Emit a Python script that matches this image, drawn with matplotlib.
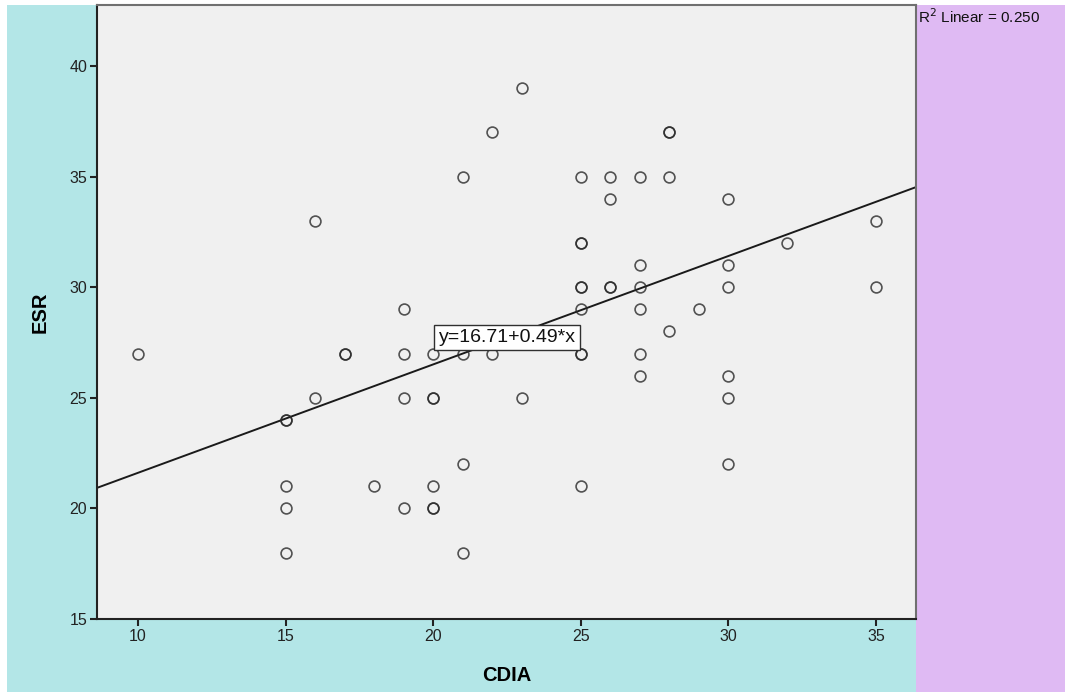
import matplotlib
matplotlib.use("Agg")
import matplotlib.pyplot as plt
from matplotlib.patches import Rectangle

plt.rcParams["font.family"] = ["Liberation Sans", "DejaVu Sans"]

# CDIA / ESR pairs (repeated pairs are genuine duplicates)
cdia = [10,
        15, 15, 15, 15, 15,
        16, 16,
        17, 17,
        18,
        19, 19, 19, 19,
        20, 20, 20, 20, 20, 20,
        21, 21, 21, 21,
        22, 22,
        23, 23,
        25, 25, 25, 25, 25, 25, 25, 25, 25,
        26, 26, 26, 26,
        27, 27, 27, 27, 27, 27,
        28, 28, 28, 28,
        29,
        30, 30, 30, 30, 30, 30,
        32,
        35, 35]
esr = [27,
       24, 24, 21, 20, 18,
       33, 25,
       27, 27,
       21,
       29, 27, 25, 20,
       27, 25, 25, 21, 20, 20,
       35, 27, 22, 18,
       37, 27,
       39, 25,
       35, 32, 32, 30, 30, 29, 27, 27, 21,
       35, 34, 30, 30,
       35, 31, 30, 29, 27, 26,
       37, 37, 35, 28,
       29,
       34, 31, 30, 26, 25, 22,
       32,
       33, 30]

intercept = 16.71
slope = 0.49
r_squared = 0.250

xlim = (8.61, 36.36)
ylim = (15.0, 42.76)
xticks = [10, 15, 20, 25, 30, 35]
yticks = [15, 20, 25, 30, 35, 40]

fig = plt.figure(figsize=(10.65, 6.92), dpi=100)
fig.patch.set_facecolor("white")

ax_left, ax_right = 97 / 1065, 916 / 1065
ax_bottom, ax_top = 73 / 692, 687 / 692

# coloured panels behind the chart and beside it
fig.patches.append(Rectangle((7 / 1065, 0), ax_right - 7 / 1065, ax_top,
                             transform=fig.transFigure, facecolor="#b3e6e7",
                             edgecolor="none", zorder=-2))
fig.patches.append(Rectangle((ax_right, 0), 1 - ax_right, ax_top,
                             transform=fig.transFigure, facecolor="#dfbaf3",
                             edgecolor="none", zorder=-2))

ax = fig.add_axes([ax_left, ax_bottom, ax_right - ax_left, ax_top - ax_bottom])
ax.set_zorder(1)
ax.set_facecolor("#f0f0f0")

ax.plot(cdia, esr, linestyle="none", marker="o", markersize=7.8,
        markerfacecolor="none", markeredgecolor="#2a2a2a",
        markeredgewidth=1.2, alpha=0.8, zorder=3)

fit_x = list(xlim)
fit_y = [intercept + slope * v for v in fit_x]
ax.plot(fit_x, fit_y, color="#1a1a1a", linewidth=1.4, zorder=2)

ax.text(22.51, 27.72, f"y={intercept:.2f}+{slope:.2f}*x", fontsize=14,
        ha="center", va="center", zorder=4, color="#111111",
        bbox=dict(boxstyle="square,pad=0.22", facecolor="white",
                  edgecolor="#303030", linewidth=1.0))

ax.set_xlim(*xlim)
ax.set_ylim(*ylim)
ax.set_xticks(xticks)
ax.set_yticks(yticks)
ax.tick_params(direction="out", length=5, width=1.5, labelsize=11.5,
               colors="#222222", pad=2)

for side in ("left", "bottom"):
    ax.spines[side].set_color("#222222")
    ax.spines[side].set_linewidth(1.5)
for side in ("top", "right"):
    ax.spines[side].set_color("#707070")
    ax.spines[side].set_linewidth(1.5)

ax.set_xlabel("CDIA", fontsize=14.5, fontweight="bold", labelpad=16)
ax.set_ylabel("ESR", fontsize=14.5, fontweight="bold", labelpad=14)

fig.text(918 / 1065, 1 - 17 / 692, f"R$^2$ Linear = {r_squared:.3f}",
         fontsize=11, ha="left", va="center", color="#111111")

fig.savefig("out.png", dpi=100)
